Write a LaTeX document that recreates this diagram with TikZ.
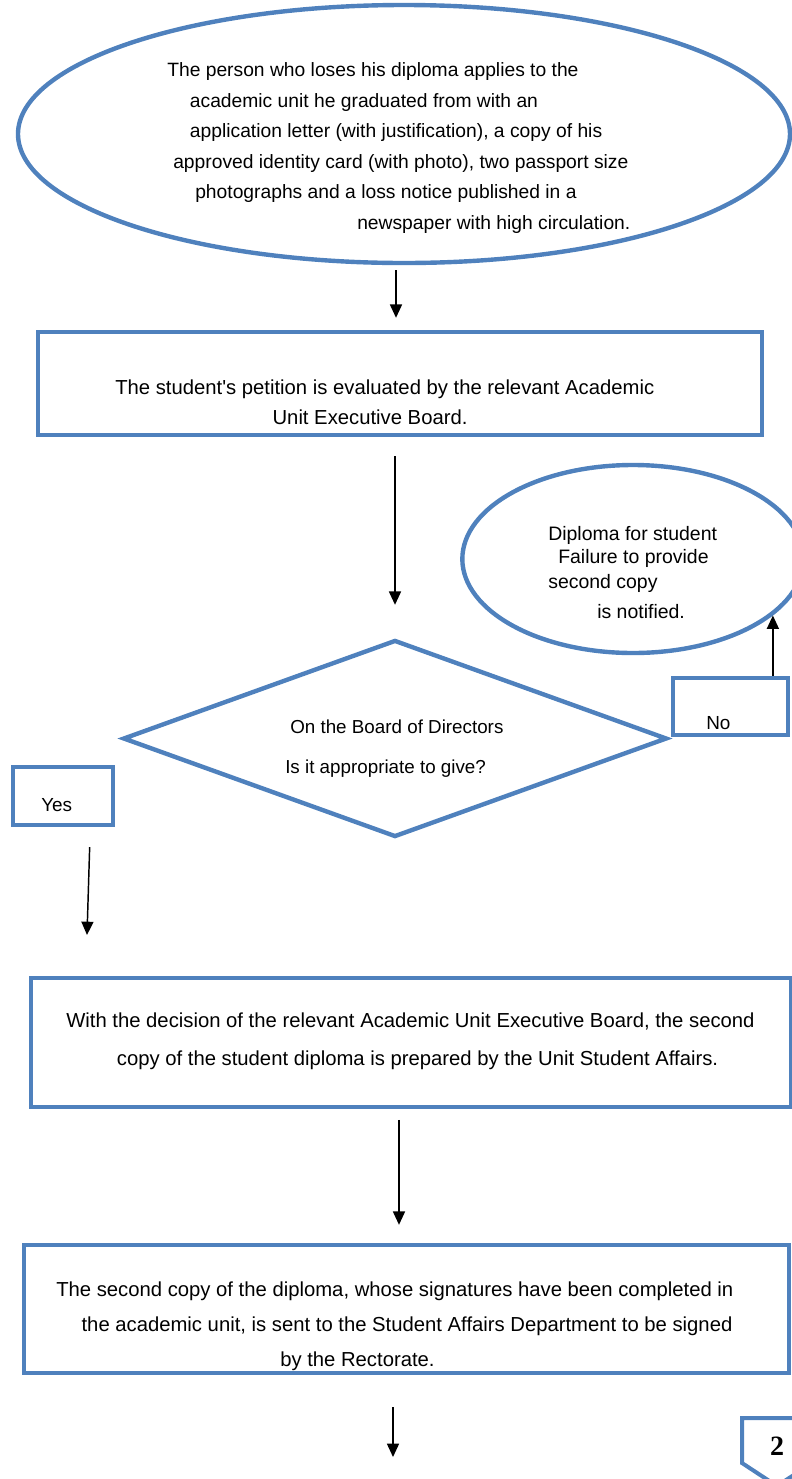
\documentclass[tikz,border=0pt]{standalone}
\usepackage{fontspec}
\setmainfont{Liberation Sans}
\newfontfamily\tagfont{Liberation Serif}
\usetikzlibrary{arrows.meta, shapes.geometric}
\definecolor{flowblue}{RGB}{79,129,189}

\begin{document}
\begin{tikzpicture}[
    x=0.75pt, y=-0.75pt,
    flowline/.style={draw=flowblue, line width=3.3pt},
    oval/.style={ellipse, flowline, inner sep=0pt},
    stepbox/.style={rectangle, flowline, inner sep=0pt},
    decision/.style={diamond, flowline, inner sep=0pt},
    txt/.style 2 args={anchor=west, inner sep=0pt, align=left, font=\fontsize{#1}{#2}\selectfont},
    arrow/.style={-{Triangle[length=10pt, width=9pt]}, line width=1.1pt}
]
\useasboundingbox (0,0) rectangle (792,1479);
\clip (0,0) rectangle (792,1479);

% shapes
\node[oval, minimum width=579pt, minimum height=193.5pt] (req) at (404,134) {};
\node[stepbox, minimum width=543pt, minimum height=77.25pt] (eval) at (400,383.5) {};
\node[oval, minimum width=256pt, minimum height=141pt] (notice) at (633,559) {};
\node[decision, minimum width=408pt, minimum height=147.75pt] (board) at (395,738.5) {};
\node[stepbox, minimum width=86.25pt, minimum height=42.75pt] (nobox) at (730.5,706.5) {};
\node[stepbox, minimum width=75pt, minimum height=43.5pt] (yesbox) at (63,796) {};
\node[stepbox, minimum width=570pt, minimum height=96.75pt] (prep) at (411,1042.5) {};
\node[stepbox, minimum width=573.75pt, minimum height=96pt] (send) at (406.5,1309) {};

% texts
\node[txt={14.45}{22.95pt}] (reqtext) at (167,148) {The person who loses his diploma applies to the\\
\hspace*{17pt}academic unit he graduated from with an\\
\hspace*{17pt}application letter (with justification), a copy of his\\
\hspace*{4.5pt}approved identity card (with photo), two passport size\\
\hspace*{21pt}photographs and a loss notice published in a\\
\hspace*{142.5pt}newspaper with high circulation.};

\node[txt={15.2}{22.5pt}] (evaltext) at (115,402) {The student\textquotesingle s petition is evaluated by the relevant Academic\\
\hspace*{118pt}Unit Executive Board.};

\node[txt={14.6}{17.25pt}] (noticetext) at (548,573) {Diploma for student\\
\hspace*{7.5pt}Failure to provide\\[1.5pt]
second copy\\[5.25pt]
\hspace*{36.75pt}is notified.};

\node[txt={14.1}{30pt}] (boardtext) at (285,749) {\hspace*{3.75pt}On the Board of Directors\\
Is it appropriate to give?};

\node[txt={14.2}{17pt}] (notext) at (706,723) {No};
\node[txt={14.2}{17pt}] (yestext) at (41,805) {Yes};

\node[txt={15.2}{28.5pt}] (preptext) at (66,1041) {With the decision of the relevant Academic Unit Executive Board, the second\\
\hspace*{38pt}copy of the student diploma is prepared by the Unit Student Affairs.};

\node[txt={15.2}{26.25pt}] (sendtext) at (56,1326) {The second copy of the diploma, whose signatures have been completed in\\
\hspace*{19pt}the academic unit, is sent to the Student Affairs Department to be signed\\
\hspace*{168pt}by the Rectorate.};

% off-page tag
\draw[flowline, line width=3pt] (742,1418) -- (812,1418) -- (812,1463) -- (777,1486) -- (742,1463) -- cycle;
\node[inner sep=0pt, font=\tagfont\bfseries\fontsize{21}{24}\selectfont] (pagetag) at (777,1446) {2};

% connectors
\coordinate (yestip) at (87,935);
\coordinate (nextpage) at (393,1457);

\draw[arrow, shorten <=3.75pt, shorten >=9pt] ([xshift=-6pt]req.south) -- ([xshift=-6pt]req.south |- eval.north);
\draw[arrow, shorten <=14.25pt, shorten >=24.75pt] (board.north |- eval.south) -- (board.north);
\draw[arrow] (nobox.north -| notice.-22) -- (notice.-22);
\draw[arrow] ([xshift=20pt, yshift=-15pt]yesbox.south) -- (yestip);
\draw[arrow, shorten <=8pt, shorten >=13.5pt] ([xshift=-9pt]prep.south) -- ([xshift=-9pt]prep.south |- send.north);
\draw[arrow, shorten <=24pt] (send.south -| nextpage) -- (nextpage);

\end{tikzpicture}
\end{document}
